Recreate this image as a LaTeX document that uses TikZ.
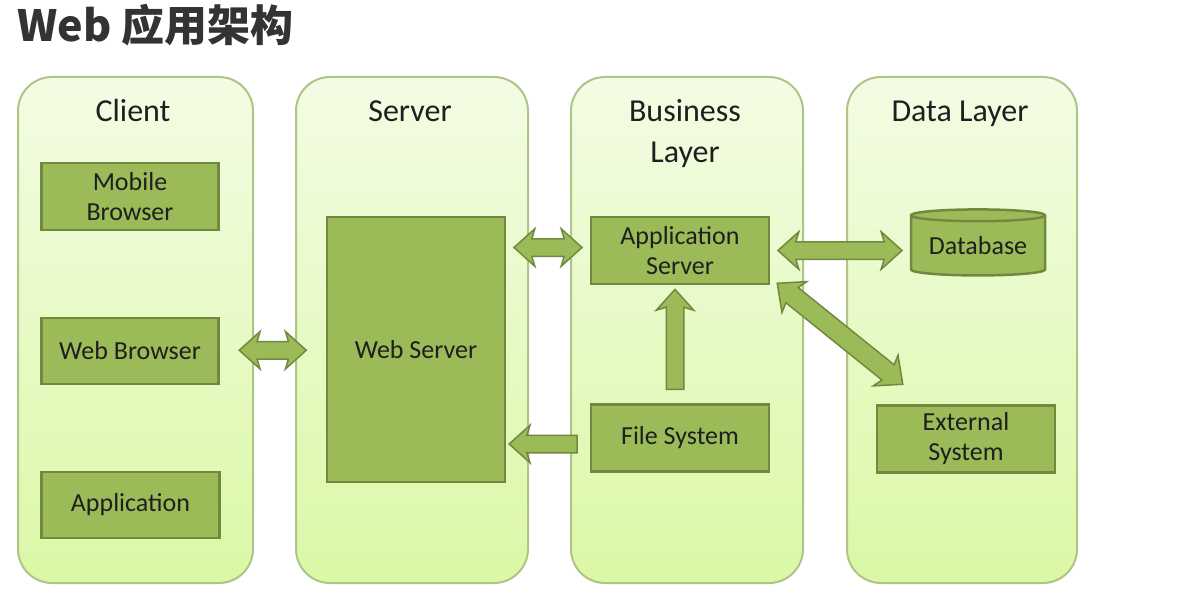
\documentclass[tikz,border=0pt]{standalone}
\usepackage{fontspec}
\setmainfont{Carlito}
\newfontfamily\cjk{Noto Sans CJK SC}
\usetikzlibrary{shapes.arrows,shapes.geometric,calc}
\definecolor{boxfill}{HTML}{9BBB59}
\definecolor{boxline}{HTML}{71893F}
\definecolor{paneltop}{HTML}{F3FCE4}
\definecolor{panelbot}{HTML}{DAF8A6}
\definecolor{panelline}{HTML}{AFC487}
\definecolor{txt}{HTML}{1F1F1F}
\definecolor{titlecol}{HTML}{333333}
\tikzset{
  panel/.style={draw=panelline, line width=2pt, rounded corners=34pt,
    top color=paneltop, bottom color=panelbot, inner sep=0pt},
  ptitle/.style={font=\fontsize{32}{41}\selectfont, text=txt, align=center, inner sep=0pt},
  box/.style={draw=boxline, fill=boxfill, line width=2.5pt,
    font=\fontsize{26}{30}\selectfont, text=txt, align=center, inner sep=0pt},
  arrowbase/.style={draw=boxline, fill=boxfill, line width=1.5pt, inner sep=0pt,
    text height=8pt, text depth=8pt, text width=0pt},
  dbl/.style={arrowbase, double arrow, double arrow head extend=10pt,
    double arrow tip angle=84, double arrow head indent=3pt},
  sgl/.style={arrowbase, single arrow, single arrow head extend=10pt,
    single arrow tip angle=84, single arrow head indent=3pt},
}
\begin{document}
\begin{tikzpicture}[x=1pt, y=-1pt]
\useasboundingbox[fill=white] (0,0) rectangle (1185,604);
% title
\node[anchor=base west, inner sep=0pt, text=titlecol,
  font=\cjk\bfseries\fontsize{43}{50}\selectfont] (title) at (17,42) {Web 应用架构};
% panels
\node[panel, minimum width=235pt, minimum height=506pt] (pclient) at (135.5,330) {};
\node[panel, minimum width=232pt, minimum height=506pt] (pserver) at (412,330) {};
\node[panel, minimum width=232pt, minimum height=506pt] (pbiz) at (687,330) {};
\node[panel, minimum width=230pt, minimum height=506pt] (pdata) at (962,330) {};
% panel titles
\node[ptitle, anchor=base] (tclient) at (133,121.5) {Client};
\node[ptitle, anchor=base] (tserver) at (410,121.5) {Server};
\node[ptitle] (tbiz) at (685,134) {Business\\Layer};
\node[ptitle, anchor=base] (tdata) at (960,121.5) {Data Layer};
% boxes
\node[box, minimum width=177pt, minimum height=67pt] (mob) at (130,196.5) {Mobile\\Browser};
\node[box, minimum width=177pt, minimum height=66pt] (wb) at (130,351) {Web Browser};
\node[box, minimum width=178pt, minimum height=66pt] (app) at (130.5,505) {Application};
\node[box, minimum width=178pt, minimum height=265pt] (ws) at (416,349.5) {Web Server};
\node[box, minimum width=178pt, minimum height=67pt] (as) at (680,250.5) {Application\\Server};
\node[box, minimum width=178pt, minimum height=67pt] (fs) at (680,438) {File System};
\node[box, cylinder, shape border rotate=90, aspect=0.12,
  cylinder uses custom fill, cylinder body fill=boxfill, cylinder end fill=boxfill!75!white,
  minimum width=134pt, minimum height=66pt] (db) at (978,246) {Database};
\node[box, minimum width=178pt, minimum height=67pt] (ext) at (966,439) {External\\System};
% arrows
\node[dbl, minimum height=67pt] (a1) at ($(wb.east)!0.5!(ws.west)$) {};
\node[dbl, minimum height=68pt] (a2) at ($($(ws.east |- as.west)!0.5!(as.west)$)+(0,-3)$) {};
\node[sgl, rotate=180, minimum height=68pt] (a3) at ($($(ws.east |- fs.west)!0.5!(fs.west)$)+(0,6)$) {};
\node[dbl, minimum height=124pt] (a4) at ($(as.east)!0.5!(db.west |- as.east)$) {};
\node[sgl, rotate=90, minimum height=100pt] (a5) at ($($(fs.north)!0.5!(as.south)$)+(-5,0)$) {};
\coordinate (d1) at ($(as.south east)+(7,-2)$);
\coordinate (d2) at ($(ext.north west)+(27,-20)$);
\path let \p1=($(d2)-(d1)$), \n1={atan2(\y1,\x1)}, \n2={veclen(\x1,\y1)} in
  node[dbl, rotate=\n1, minimum height=\n2, text height=9pt, text depth=9pt] (a6) at ($(d1)!0.5!(d2)$) {};
\end{tikzpicture}
\end{document}
